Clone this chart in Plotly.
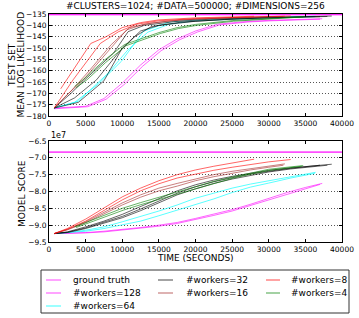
import plotly.graph_objects as go

# ---------------- data ----------------
TITLE = "#CLUSTERS=1024; #DATA=500000; #DIMENSIONS=256"
X_TICKS = [0, 5000, 10000, 15000, 20000, 25000, 30000, 35000, 40000]
X_TICK_TEXT = ["0", "5000", "10000", "15000", "20000", "25000", "30000", "35000", "40000"]
LL_TICKS = [-180, -175, -170, -165, -160, -155, -150, -145, -140, -135]
LL_TICK_TEXT = ["\u2212180", "\u2212175", "\u2212170", "\u2212165", "\u2212160", "\u2212155",
                "\u2212150", "\u2212145", "\u2212140", "\u2212135"]
SC_TICKS = [-9.5e7, -9.0e7, -8.5e7, -8.0e7, -7.5e7, -7.0e7, -6.5e7]
SC_TICK_TEXT = ["\u22129.5", "\u22129.0", "\u22128.5", "\u22128.0", "\u22127.5", "\u22127.0", "\u22126.5"]

GT_TIME = [0, 40000]
GT_LL = [-135.3, -135.3]
GT_SCORE = [-6.83e7, -6.83e7]

# test-set mean log likelihood, several runs per worker count
LL_T_W8 = [[1600, 5700, 7800, 10000, 12500, 15000, 20000, 25000, 28000],
           [700, 3300, 7000, 9500, 12000, 15000, 20000, 25000, 30000, 33000]]
LL_W8 = [[-168, -148, -145, -141, -138.8, -137.6, -136.7, -136.2, -136.0],
         [-176.5, -164, -148, -142.8, -139.5, -138, -137, -136.4, -136.1, -135.9]]

LL_T_W16 = [[700, 2500, 4700, 7900, 10600, 13000, 16000, 20000, 25000, 32200],
            [700, 3000, 5500, 8500, 11000, 14000, 18000, 24000, 32000]]
LL_W16 = [[-176.5, -170.5, -164, -152.3, -142, -139.5, -138.2, -137.3, -136.6, -136.0],
          [-176.5, -169, -160, -148.5, -141, -139, -137.6, -136.8, -136.1]]

LL_T_W32 = [[700, 3000, 4900, 8800, 10800, 13000, 17000, 22000, 28000, 34000, 38600],
            [700, 3500, 6500, 9500, 11700, 14000, 18000, 24000, 30000, 37000],
            [700, 4000, 7500, 10000, 12500, 15000, 20000, 26000, 32000, 38000]]
LL_W32 = [[-176.5, -170, -164, -152.3, -142.8, -140, -138.4, -137.3, -136.6, -136.2, -135.9],
          [-176.5, -172, -164, -152, -145, -140.5, -138.6, -137.4, -136.7, -136.2],
          [-176.5, -174, -164.5, -150, -142.5, -140, -138.2, -137.1, -136.5, -136.1]]

LL_T_W4 = [[3500, 5000, 7500, 10300, 12500, 15000, 17500, 20000, 25000, 30000, 35000],
           [3700, 5200, 7700, 10500, 12700, 15200, 17700, 20200, 25200, 30200, 34700]]
LL_W4 = [[-167, -163, -155.5, -148.5, -146, -143.2, -141, -139.6, -137.9, -136.9, -136.2],
         [-167.5, -164, -156.5, -149, -146.5, -143.6, -141.4, -140, -138.2, -137.1, -136.3]]

LL_T_W64 = [[700, 3500, 6700, 9900, 12900, 16500, 20000, 25000, 30000, 36400],
            [700, 4000, 8100, 10800, 13500, 16500, 20000, 25000, 30000, 36300]]
LL_W64 = [[-176.5, -174, -166, -155.8, -142.6, -138.5, -137.5, -136.8, -136.4, -136.0],
          [-176.5, -173.5, -161, -150.7, -143, -139.4, -138, -137.2, -136.7, -136.2]]

LL_T_W128 = [[700, 5000, 7500, 10000, 12500, 15000, 17500, 20000, 23000, 27000, 30000, 37300],
             [700, 5300, 7800, 10300, 12800, 15300, 17800, 20300, 23300, 27300, 30300, 37000]]
LL_W128 = [[-176.5, -175.7, -172.3, -165.5, -157.5, -150.8, -146, -142.5, -139.5, -138.3, -137.8, -137.1],
           [-176.8, -175.9, -172.6, -166, -158, -151.2, -146.4, -142.9, -139.8, -138.5, -138, -137.3]]

# model score, several runs per worker count
SC_T_W8 = [[700, 2500, 5000, 7500, 10000, 12500, 15000, 17500, 20000, 22500, 25000, 28000],
           [700, 2500, 5000, 7500, 10000, 12500, 15000, 17500, 20000, 22500, 25000, 28000, 30000, 33000]]
SC_W8 = [[-9.25e7, -9.1e7, -8.82e7, -8.5e7, -8.16e7, -7.9e7, -7.68e7, -7.5e7, -7.36e7, -7.25e7, -7.16e7, -7.04e7],
         [-9.25e7, -9.12e7, -8.88e7, -8.56e7, -8.25e7, -7.98e7, -7.77e7, -7.6e7, -7.48e7, -7.37e7, -7.28e7, -7.18e7, -7.12e7, -7.05e7]]

SC_T_W16 = [[700, 2500, 5000, 7500, 10000, 12500, 15000, 17500, 20000, 22500, 25000, 27500, 30000, 32200],
            [700, 2500, 5000, 7500, 10000, 12500, 15000, 17500, 20000, 22500, 25000, 27500, 30000, 32000]]
SC_W16 = [[-9.25e7, -9.13e7, -8.9e7, -8.62e7, -8.34e7, -8.1e7, -7.9e7, -7.76e7, -7.62e7, -7.5e7, -7.4e7, -7.32e7, -7.24e7, -7.18e7],
          [-9.25e7, -9.14e7, -8.93e7, -8.66e7, -8.4e7, -8.17e7, -7.98e7, -7.84e7, -7.68e7, -7.56e7, -7.45e7, -7.36e7, -7.28e7, -7.22e7]]

SC_T_W32 = [[700, 2500, 5000, 7500, 10000, 12500, 15000, 17500, 20000, 22500, 25000, 27500, 30000, 33000, 36000, 38600],
            [700, 2500, 5000, 7500, 10000, 12500, 15000, 17500, 20000, 22500, 25000, 27500, 30000, 33000, 37000],
            [700, 2500, 5000, 7500, 10000, 12500, 15000, 17500, 20000, 22500, 25000, 27500, 30000, 33000, 38000]]
SC_W32 = [[-9.25e7, -9.2e7, -9.05e7, -8.88e7, -8.68e7, -8.45e7, -8.2e7, -7.98e7, -7.8e7, -7.66e7, -7.55e7, -7.45e7, -7.37e7, -7.3e7, -7.24e7, -7.19e7],
          [-9.25e7, -9.21e7, -9.08e7, -8.92e7, -8.74e7, -8.52e7, -8.28e7, -8.05e7, -7.86e7, -7.71e7, -7.59e7, -7.48e7, -7.4e7, -7.31e7, -7.22e7],
          [-9.25e7, -9.22e7, -9.1e7, -8.95e7, -8.78e7, -8.57e7, -8.33e7, -8.1e7, -7.92e7, -7.76e7, -7.63e7, -7.52e7, -7.42e7, -7.33e7, -7.22e7]]

SC_T_W4 = [[3500, 5000, 7500, 10000, 12500, 15000, 17500, 20000, 22500, 25000, 27500, 30000, 32500, 34700],
           [3700, 5200, 7700, 10200, 12700, 15200, 17700, 20200, 22700, 25200, 27700, 30200, 32700, 34500]]
SC_W4 = [[-9.05e7, -8.92e7, -8.72e7, -8.5e7, -8.33e7, -8.17e7, -8.02e7, -7.87e7, -7.7e7, -7.57e7, -7.45e7, -7.34e7, -7.28e7, -7.23e7],
         [-9.07e7, -8.95e7, -8.76e7, -8.55e7, -8.38e7, -8.22e7, -8.07e7, -7.91e7, -7.74e7, -7.6e7, -7.48e7, -7.37e7, -7.3e7, -7.25e7]]

SC_T_W64 = [[700, 2500, 5000, 7500, 10000, 12500, 15000, 17500, 20000, 22500, 25000, 27500, 30000, 33000, 36400],
            [700, 2500, 5000, 7500, 10000, 12500, 15000, 17500, 20000, 22500, 25000, 27500, 30000, 33000, 36300]]
SC_W64 = [[-9.25e7, -9.22e7, -9.15e7, -9.05e7, -8.9e7, -8.75e7, -8.58e7, -8.4e7, -8.2e7, -8.05e7, -7.9e7, -7.78e7, -7.68e7, -7.55e7, -7.43e7],
          [-9.25e7, -9.23e7, -9.18e7, -9.1e7, -9.0e7, -8.88e7, -8.72e7, -8.55e7, -8.4e7, -8.22e7, -8.03e7, -7.87e7, -7.75e7, -7.6e7, -7.46e7]]

SC_T_W128 = [[700, 2500, 5000, 7500, 10000, 12500, 15000, 17500, 20000, 22500, 25000, 27500, 30000, 32500, 35000, 37300],
             [700, 2500, 5000, 7500, 10000, 12500, 15000, 17500, 20000, 22500, 25000, 27500, 30000, 32500, 35000, 37000]]
SC_W128 = [[-9.25e7, -9.24e7, -9.22e7, -9.18e7, -9.13e7, -9.07e7, -9.0e7, -8.92e7, -8.8e7, -8.67e7, -8.54e7, -8.38e7, -8.2e7, -8.03e7, -7.88e7, -7.76e7],
           [-9.25e7, -9.245e7, -9.23e7, -9.2e7, -9.15e7, -9.1e7, -9.03e7, -8.95e7, -8.84e7, -8.71e7, -8.58e7, -8.42e7, -8.25e7, -8.08e7, -7.92e7, -7.79e7]]

# legend labels in the reference's column order
LEGEND_LABELS = ["ground truth", "#workers=128", "#workers=64",
                 "#workers=32", "#workers=16", "#workers=8", "#workers=4"]

# --------------- style ----------------
FONT = "DejaVu Sans"
W, H = 359, 318
ML, MR, MT, MB = 49, 17, 14, 76
PW, PH = W - ML - MR, H - MT - MB


def py(p):  # pixel y -> paper y
    return (H - MB - p) / PH


def px(p):  # pixel x -> paper x
    return (p - ML) / PW


COLORS = {
    "ground truth": "rgba(255,0,255,0.6)",
    "#workers=128": "rgba(255,0,255,0.6)",
    "#workers=64": "rgba(0,255,255,0.65)",
    "#workers=32": "rgba(0,0,0,0.6)",
    "#workers=16": "rgba(165,42,42,0.6)",
    "#workers=8": "rgba(255,0,0,0.6)",
    "#workers=4": "rgba(0,128,0,0.6)",
}

GROUPS = [
    ("#workers=128", LL_T_W128, LL_W128, SC_T_W128, SC_W128),
    ("#workers=64", LL_T_W64, LL_W64, SC_T_W64, SC_W64),
    ("#workers=32", LL_T_W32, LL_W32, SC_T_W32, SC_W32),
    ("#workers=16", LL_T_W16, LL_W16, SC_T_W16, SC_W16),
    ("#workers=8", LL_T_W8, LL_W8, SC_T_W8, SC_W8),
    ("#workers=4", LL_T_W4, LL_W4, SC_T_W4, SC_W4),
]

fig = go.Figure()

for k in range(2):
    fig.add_trace(go.Scatter(x=GT_TIME, y=GT_LL, mode="lines", name="ground truth",
                             line=dict(color=COLORS["ground truth"], width=1.2),
                             legendgroup="gt", showlegend=False, xaxis="x", yaxis="y"))
    fig.add_trace(go.Scatter(x=GT_TIME, y=GT_SCORE, mode="lines", name="ground truth",
                             line=dict(color=COLORS["ground truth"], width=1.2),
                             legendgroup="gt", showlegend=False, xaxis="x2", yaxis="y2"))

for name, lt, lv, st, sv in GROUPS:
    for t, v in zip(lt, lv):
        fig.add_trace(go.Scatter(x=t, y=v, mode="lines", name=name,
                                 line=dict(color=COLORS[name], width=1),
                                 legendgroup=name, showlegend=False, xaxis="x", yaxis="y"))
    for t, v in zip(st, sv):
        fig.add_trace(go.Scatter(x=t, y=v, mode="lines", name=name,
                                 line=dict(color=COLORS[name], width=1),
                                 legendgroup=name, showlegend=False, xaxis="x2", yaxis="y2"))

axis_common = dict(showline=True, linecolor="black", linewidth=1, mirror="allticks",
                   ticks="inside", ticklen=3, tickcolor="black", zeroline=False,
                   tickfont=dict(family=FONT, size=7.5, color="black"))
grid = dict(showgrid=True, gridcolor="#555555", griddash="1px,2px", gridwidth=0.7)

fig.update_layout(
    width=W, height=H,
    margin=dict(l=ML, r=MR, t=MT, b=MB, autoexpand=False),
    paper_bgcolor="white", plot_bgcolor="white",
    font=dict(family=FONT, color="black"),
    showlegend=False,
    xaxis=dict(domain=[0, 1], range=[0, 40000], tickvals=X_TICKS, ticktext=X_TICK_TEXT,
               showgrid=False, anchor="y", **axis_common),
    yaxis=dict(domain=[py(116), 1], range=[-180, -135], tickvals=LL_TICKS,
               ticktext=LL_TICK_TEXT, anchor="x", **grid, **axis_common),
    xaxis2=dict(domain=[0, 1], range=[0, 40000], tickvals=X_TICKS, ticktext=X_TICK_TEXT,
                showgrid=False, anchor="y2", **axis_common),
    yaxis2=dict(domain=[0, py(141)], range=[-9.5e7, -6.5e7], tickvals=SC_TICKS,
                ticktext=SC_TICK_TEXT, anchor="x2", **grid, **axis_common),
)

ann = [
    dict(text=TITLE, x=0.5, y=py(6.5), yanchor="middle", xanchor="center",
         font=dict(family=FONT, size=9)),
    dict(text="TEST SET", x=px(12), y=py(65), textangle=-90, xanchor="center",
         yanchor="middle", font=dict(family=FONT, size=9)),
    dict(text="MEAN LOG LIKELIHOOD", x=px(20.5), y=py(65), textangle=-90,
         xanchor="center", yanchor="middle", font=dict(family=FONT, size=9)),
    dict(text="MODEL SCORE", x=px(22), y=py(194), textangle=-90, xanchor="center",
         yanchor="middle", font=dict(family=FONT, size=9)),
    dict(text="TIME (SECONDS)", x=0.5, y=py(258), xanchor="center", yanchor="middle",
         font=dict(family=FONT, size=9)),
    dict(text="1e7", x=0, y=py(135), xanchor="left", yanchor="middle",
         font=dict(family=FONT, size=8)),
]

# legend box (matplotlib-style, 3 columns filled column-wise)
shapes = [dict(type="rect", xref="paper", yref="paper", x0=px(41), x1=px(349),
               y0=py(313), y1=py(270), line=dict(color="#333", width=1),
               fillcolor="white", layer="above")]
COL_LINE_X = [(46, 61), (158, 173), (266, 280)]
COL_TEXT_X = [71, 184, 289]
ROW_Y = [280, 293, 306]
for idx, label in enumerate(LEGEND_LABELS):
    col = 0 if idx < 3 else (1 if idx < 5 else 2)
    row = idx if idx < 3 else (idx - 3 if idx < 5 else idx - 5)
    x0, x1 = COL_LINE_X[col]
    yy = py(ROW_Y[row])
    shapes.append(dict(type="line", xref="paper", yref="paper", x0=px(x0), x1=px(x1),
                       y0=yy, y1=yy, line=dict(color=COLORS[label], width=1.2),
                       layer="above"))
    ann.append(dict(text=label, x=px(COL_TEXT_X[col]), y=yy, xanchor="left",
                    yanchor="middle", font=dict(family=FONT, size=9)))

for a in ann:
    a.update(xref="paper", yref="paper", showarrow=False)
fig.update_layout(annotations=ann, shapes=shapes)

fig.write_html("out.html", config={"displayModeBar": False},
               post_script="document.body.style.margin='0px';document.body.style.padding='0px';")
